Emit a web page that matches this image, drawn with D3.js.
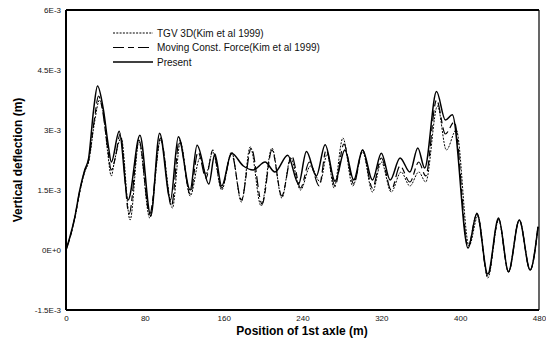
<!DOCTYPE html>
<html>
<head>
<meta charset="utf-8">
<script src="https://cdn.jsdelivr.net/npm/d3@7"></script>
<style>
  body { margin: 0; background: #fff; }
  svg { font-family: "Liberation Sans", Arial, sans-serif; }
</style>
</head>
<body>
<div id="chart"></div>
<script>
// position of 1st axle (m), deflection in units of 1E-3 m
var present = [
  [0,0],[4,0.33],[9,0.83],[14,1.5],[19,2.0],[23,2.3],[28,3.5],[32,4.1],[38,3.5],[43,2.6],[46,2.2],
  [54,2.97],[63,1.25],[75,2.87],[86,0.85],[95,2.92],[106,1.25],[114,2.83],[126,1.5],[133,2.62],
  [145,1.65],[151,2.4],[158,1.6],[168,2.42],[180,2.1],[190,2.0],[202,2.2],[212,1.95],[225,2.37],
  [236,1.65],[244,2.46],[254,1.85],[263,2.63],[273,1.72],[283,2.5],[292,1.75],[301,2.5],[311,1.75],
  [320,2.42],[329,1.75],[339,2.3],[349,1.95],[357,2.55],[364,2.05],[376,3.96],[385,3.25],[392,3.38],
  [408,0.05],[417,0.92],[428,-0.6],[439,0.8],[449,-0.54],[460,0.75],[471,-0.5],[479,0.58]
];
var tgv3d = [
  [0,0],[4,0.3],[9,0.8],[14,1.45],[19,1.95],[23,2.2],[29,3.2],[34,3.75],[38,3.4],[42,2.5],[46,1.85],
  [49,2.2],[56,2.8],[65,0.75],[74,2.7],[85,0.8],[96,2.75],[108,1.05],[116,2.7],[126,1.35],[136,2.3],
  [142,1.9],[149,2.45],[158,1.5],[168,2.45],[178,1.2],[187,2.58],[198,1.1],[209,2.55],[219,1.3],
  [228,2.3],[238,1.5],[248,2.1],[258,1.7],[265,2.4],[272,1.55],[281,2.8],[291,1.6],[301,2.45],
  [311,1.45],[320,2.2],[330,1.45],[340,1.95],[349,1.6],[358,1.95],[365,1.7],[377,3.6],[386,2.5],
  [396,3.0],[409,0.1],[418,0.85],[428,-0.7],[439,0.75],[449,-0.55],[460,0.75],[471,-0.5],[479,0.58]
];
var movingForce = [
  [0,0],[4,0.3],[9,0.82],[14,1.48],[19,1.98],[23,2.25],[29,3.3],[33,3.85],[37,3.5],[42,2.6],[46,2.0],
  [50,2.3],[55,2.9],[64,0.9],[74,2.75],[85,0.9],[96,2.8],[107,1.1],[115,2.75],[126,1.4],[134,2.45],
  [142,1.8],[149,2.5],[158,1.55],[168,2.4],[178,1.25],[188,2.55],[199,1.15],[209,2.5],[219,1.35],
  [229,2.35],[238,1.55],[247,2.2],[257,1.6],[264,2.5],[273,1.6],[282,2.65],[292,1.65],[301,2.5],
  [311,1.55],[320,2.3],[330,1.5],[339,2.1],[349,1.7],[358,2.2],[365,1.85],[376,3.75],[385,2.9],
  [394,3.2],[408,0.08],[417,0.9],[428,-0.65],[439,0.78],[449,-0.55],[460,0.75],[471,-0.5],[479,0.58]
];

var xTicks = [0, 80, 160, 240, 320, 400, 480];
var yTicks = [-1.5, 0, 1.5, 3, 4.5, 6];
var yTickLabels = ["-1.5E-3", "0E+0", "1.5E-3", "3E-3", "4.5E-3", "6E-3"];

var series = [
  { name: "TGV 3D(Kim et al 1999)", values: tgv3d, dash: "2,1.3", width: 1 },
  { name: "Moving Const. Force(Kim et al 1999)", values: movingForce, dash: "11,4,6,4", width: 1.2 },
  { name: "Present", values: present, dash: null, width: 1.5 }
];

var w = 546, h = 339;
var pLeft = 66, pRight = 539, pTop = 10, pBottom = 310;

var svg = d3.select("#chart").append("svg").attr("width", w).attr("height", h);

var x = d3.scaleLinear().domain([0, 480]).range([pLeft, pRight]);
var y = d3.scaleLinear().domain([-1.5, 6]).range([pBottom, pTop]);

// axes, no tick marks
var xAxis = svg.append("g")
  .attr("transform", "translate(0," + pBottom + ")")
  .call(d3.axisBottom(x).tickValues(xTicks).tickSize(0).tickPadding(5));
var yAxis = svg.append("g")
  .attr("transform", "translate(" + pLeft + ",0)")
  .call(d3.axisLeft(y).tickValues(yTicks).tickSize(0).tickPadding(5)
    .tickFormat((d, i) => yTickLabels[i]));

[xAxis, yAxis].forEach(g => {
  g.select(".domain").remove();
  g.selectAll("text").attr("font-size", 8).attr("fill", "#111")
    .attr("font-family", "'Liberation Sans', Arial, sans-serif");
});

var line = d3.line()
  .x(d => x(d[0]))
  .y(d => y(d[1]))
  .curve(d3.curveMonotoneX);

var plot = svg.append("g");
series.forEach(s => {
  plot.append("path")
    .datum(s.values)
    .attr("d", line)
    .attr("fill", "none")
    .attr("stroke", "#000")
    .attr("stroke-width", s.width)
    .attr("stroke-dasharray", s.dash);
});

// frame
svg.append("line").attr("x1", pLeft).attr("x2", pRight).attr("y1", pTop).attr("y2", pTop)
  .attr("stroke", "#000").attr("stroke-width", 2);
svg.append("line").attr("x1", pLeft).attr("x2", pRight).attr("y1", pBottom).attr("y2", pBottom)
  .attr("stroke", "#000").attr("stroke-width", 2);
svg.append("line").attr("x1", pLeft).attr("x2", pLeft).attr("y1", pTop).attr("y2", pBottom)
  .attr("stroke", "#000").attr("stroke-width", 2);
svg.append("line").attr("x1", pRight).attr("x2", pRight).attr("y1", pTop).attr("y2", pBottom)
  .attr("stroke", "#000").attr("stroke-width", 1.2);

// legend
var legend = svg.append("g").attr("transform", "translate(113,33)");
series.forEach((s, i) => {
  var row = legend.append("g").attr("transform", "translate(0," + (i * 14.5) + ")");
  row.append("line").attr("x1", 0).attr("x2", 40).attr("y1", 0).attr("y2", 0)
    .attr("stroke", "#000").attr("stroke-width", s.width)
    .attr("stroke-dasharray", s.dash);
  row.append("text").attr("x", 44).attr("y", 3.5)
    .attr("font-size", 10).attr("fill", "#111").text(s.name);
});

// axis titles
svg.append("text")
  .attr("x", 302).attr("y", 335)
  .attr("text-anchor", "middle")
  .attr("font-size", 12).attr("font-weight", "bold")
  .text("Position of 1st axle (m)");
svg.append("text")
  .attr("transform", "translate(22,160) rotate(-90)")
  .attr("text-anchor", "middle")
  .attr("font-size", 12).attr("font-weight", "bold")
  .text("Vertical deflection (m)");
</script>
</body>
</html>
